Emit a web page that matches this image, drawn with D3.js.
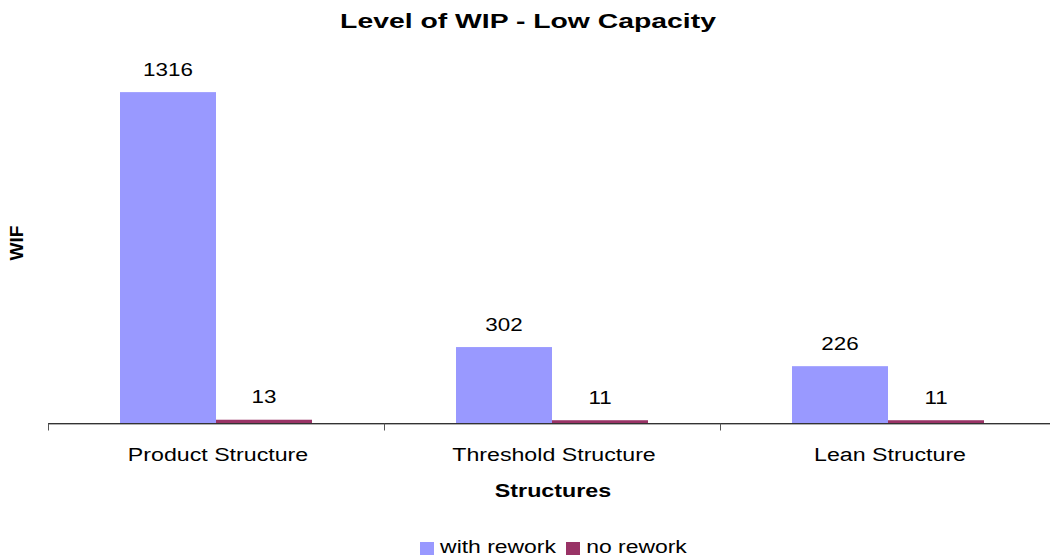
<!DOCTYPE html>
<html>
<head>
<meta charset="utf-8">
<script src="https://cdn.jsdelivr.net/npm/d3@7/dist/d3.min.js"></script>
<style>
  html, body { margin: 0; padding: 0; background: #fff; }
  svg { display: block; font-family: "Liberation Sans", Arial, sans-serif; }
</style>
</head>
<body>
<svg id="chart" width="1050" height="560"></svg>
<script>
// Work-in-process levels per structure, with and without rework
const categories = ["Product Structure", "Threshold Structure", "Lean Structure"];
const seriesNames = ["with rework", "no rework"];
const withRework = [1316, 302, 226];
const noRework = [13, 11, 11];
const seriesColors = ["#9999FF", "#993366"];

const svg = d3.select("#chart");
const plotLeft = 48, plotRight = 1056, plotTop = 71, plotBase = 423;

const rows = categories.map((c, i) => ({ cat: c, vals: [withRework[i], noRework[i]] }));

const x0 = d3.scaleBand().domain(categories).range([plotLeft, plotRight])
  .paddingInner(0.4286).paddingOuter(0.2143);
const x1 = d3.scaleBand().domain(seriesNames).range([0, x0.bandwidth()]);
const y = d3.scaleLinear().domain([0, 1400]).range([plotBase, plotTop]);

// horizontally widened text, anchored at (x, y)
function wideText(g, x, yy, txt, size, sx, weight) {
  return g.append("text")
    .attr("transform", `translate(${x},${yy}) scale(${sx},1)`)
    .attr("text-anchor", "middle")
    .attr("font-size", size)
    .attr("font-weight", weight || "normal")
    .attr("fill", "#000")
    .text(txt);
}

// bars
const groups = svg.append("g").selectAll("g").data(rows).join("g")
  .attr("transform", d => `translate(${x0(d.cat)},0)`);

groups.selectAll("rect").data(d => d.vals.map((v, k) => ({ v, k })))
  .join("rect")
  .attr("x", d => x1(seriesNames[d.k]))
  .attr("width", x1.bandwidth())
  .attr("y", d => y(d.v))
  .attr("height", d => y(0) - y(d.v))
  .attr("fill", d => seriesColors[d.k]);

// value labels
groups.each(function (d) {
  const g = d3.select(this);
  d.vals.forEach((v, k) => {
    wideText(g, x1(seriesNames[k]) + x1.bandwidth() / 2, y(v) - 16.5, String(v), 17.5, 1.28);
  });
});

// category axis
const axisY = plotBase + 0.5;
svg.append("line").attr("x1", plotLeft).attr("x2", plotRight).attr("y1", axisY + 1).attr("y2", axisY + 1)
  .attr("stroke", "#b0b0b0").attr("stroke-width", 1);
svg.append("line").attr("x1", plotLeft).attr("x2", plotRight).attr("y1", axisY).attr("y2", axisY)
  .attr("stroke", "#333").attr("stroke-width", 1);
const tickXs = categories.map(c => x0(c) - x0.step() * 0.2143).concat([plotRight]);
svg.selectAll("line.tick").data(tickXs).join("line").attr("class", "tick")
  .attr("x1", d => Math.round(d) + 0.5).attr("x2", d => Math.round(d) + 0.5)
  .attr("y1", axisY).attr("y2", axisY + 7)
  .attr("stroke", "#555").attr("stroke-width", 1);

categories.forEach(c => {
  wideText(svg, x0(c) + x0.bandwidth() / 2 + 2, 461, c, 19, 1.22);
});

// titles
wideText(svg, 528, 28, "Level of WIP - Low Capacity", 21, 1.35, "bold");
wideText(svg, 553, 497, "Structures", 17.5, 1.33, "bold");
svg.append("text")
  .attr("transform", "translate(23,243) rotate(-90)")
  .attr("text-anchor", "middle")
  .attr("font-size", 19).attr("font-weight", "bold")
  .text("WIF");

// legend
const legend = svg.append("g");
const legendItems = [
  { name: seriesNames[0], color: seriesColors[0], sx: 420, tx: 498 },
  { name: seriesNames[1], color: seriesColors[1], sx: 566, tx: 636.5 }
];
legendItems.forEach(it => {
  legend.append("rect").attr("x", it.sx).attr("y", 542).attr("width", 14).attr("height", 13)
    .attr("fill", it.color);
  wideText(legend, it.tx, 553, it.name, 17.5, 1.31);
});
</script>
</body>
</html>
